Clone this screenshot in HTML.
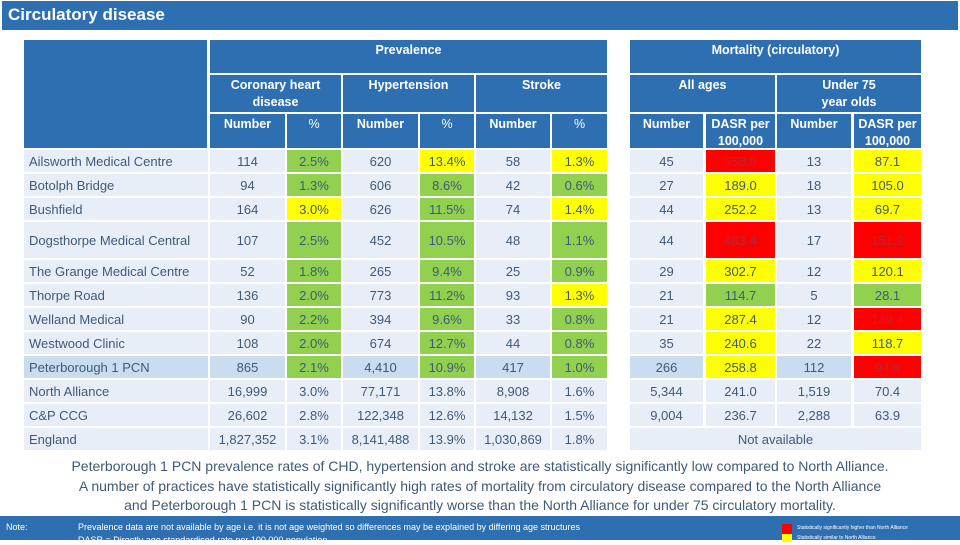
<!DOCTYPE html>
<html><head><meta charset="utf-8">
<style>
*{margin:0;padding:0;box-sizing:border-box}
body{width:960px;height:540px;background:#fff;position:relative;overflow:hidden;font-family:"Liberation Sans",sans-serif}
.abs{position:absolute}
.hd{position:absolute;background:#2e6fb2;color:#fff;font-weight:bold;font-size:12.5px;text-align:center;line-height:17px;padding-top:2px}
.c{position:absolute;display:flex;align-items:center;justify-content:center;font-size:13px;color:#3f5a78;background:#e8eef8}
.nm{justify-content:flex-start;padding-left:5px}
</style></head>
<body>
<div class="abs" style="left:2px;top:1px;width:956px;height:29px;background:#2e6fb2;color:#fff;font-weight:bold;font-size:17px;padding:4px 6px">Circulatory disease</div>

<div class="hd" style="left:24px;top:40px;width:183px;height:108px"></div>
<div class="hd" style="left:210px;top:40px;width:397px;height:33px">Prevalence</div>
<div class="hd" style="left:630px;top:40px;width:291px;height:33px">Mortality (circulatory)</div>
<div class="hd" style="left:210px;top:75px;width:131px;height:37px">Coronary heart<br>disease</div>
<div class="hd" style="left:343px;top:75px;width:131px;height:37px">Hypertension</div>
<div class="hd" style="left:476px;top:75px;width:131px;height:37px">Stroke</div>
<div class="hd" style="left:630px;top:75px;width:145px;height:37px">All ages</div>
<div class="hd" style="left:777px;top:75px;width:144px;height:37px">Under 75<br>year olds</div>
<div id="subhdr"></div>
<div id="tbl"></div>

<div class="abs" style="left:0;top:457px;width:960px;text-align:center;font-size:14px;line-height:19.5px;color:#3f5a78">Peterborough 1 PCN prevalence rates of CHD, hypertension and stroke are statistically significantly low compared to North Alliance.<br>A number of practices have statistically significantly high rates of mortality from circulatory disease compared to the North Alliance<br>and Peterborough 1 PCN is statistically significantly worse than the North Alliance for under 75 circulatory mortality.</div>

<div class="abs" style="left:0;top:516px;width:960px;height:24px;background:#2e6fb2;color:#fff;font-size:9px">
<span class="abs" style="left:6px;top:6px">Note:</span>
<span class="abs" style="left:78px;top:6px">Prevalence data are not available by age i.e. it is not age weighted so differences may be explained by differing age structures</span>
<span class="abs" style="left:78px;top:19px">DASR = Directly age standardised rate per 100,000 population</span>
<span class="abs" style="left:782px;top:8px;width:10px;height:10px;background:#ff0000"></span>
<span class="abs" style="left:782px;top:18px;width:10px;height:8px;background:#ffff00"></span>
<span class="abs" style="left:797px;top:9px;font-size:5px">Statistically significantly higher than North Alliance</span>
<span class="abs" style="left:797px;top:19px;font-size:5px">Statistically similar to North Alliance</span>
</div>

<script>
const practices=["Ailsworth Medical Centre","Botolph Bridge","Bushfield","Dogsthorpe Medical Central","The Grange Medical Centre","Thorpe Road","Welland Medical","Westwood Clinic","Peterborough 1 PCN","North Alliance","C&P CCG","England"];
const chdNum=["114","94","164","107","52","136","90","108","865","16,999","26,602","1,827,352"];
const chdPct=["2.5%","1.3%","3.0%","2.5%","1.8%","2.0%","2.2%","2.0%","2.1%","3.0%","2.8%","3.1%"];
const hypNum=["620","606","626","452","265","773","394","674","4,410","77,171","122,348","8,141,488"];
const hypPct=["13.4%","8.6%","11.5%","10.5%","9.4%","11.2%","9.6%","12.7%","10.9%","13.8%","12.6%","13.9%"];
const strNum=["58","42","74","48","25","93","33","44","417","8,908","14,132","1,030,869"];
const strPct=["1.3%","0.6%","1.4%","1.1%","0.9%","1.3%","0.8%","0.8%","1.0%","1.6%","1.5%","1.8%"];
const allNum=["45","27","44","44","29","21","21","35","266","5,344","9,004",""];
const allDasr=["358.9","189.0","252.2","483.4","302.7","114.7","287.4","240.6","258.8","241.0","236.7",""];
const u75Num=["13","18","13","17","12","5","12","22","112","1,519","2,288",""];
const u75Dasr=["87.1","105.0","69.7","151.2","120.1","28.1","149.4","118.7","94.6","70.4","63.9",""];
// significance: g=low, y=similar, r=high, n=none
const chdSig="ggyggggggnnn";
const hypSig="yggggggggnnn";
const strSig="ygyggygggnnn";
const allSig="ryyrygyyynnn";
const u75Sig="yyyrygryrnnn";

const colX=[24,210,287,343,420,476,552,630,706,777,854];
const colW=[184,75,54,75,54,74,55,73,69,74,67];
const rowTop=[150,174,198,222,260,284,308,332,356,380,404,428];
const rowH=[22,22,22,36,22,22,22,22,22,22,22,22];
const subLabels=["Number","%","Number","%","Number","%","Number","DASR per<br>100,000","Number","DASR per<br>100,000"];
const fills={g:"#92d050",y:"#ffff00",r:"#ff0000"};
const sh=document.getElementById('subhdr');
subLabels.forEach((t,i)=>{
  const d=document.createElement('div');d.className='hd';
  
  
  d.style.cssText=`left:${colX[i+1]}px;top:114px;width:${colW[i+1]}px;height:34px;`+(i%2===1&&i<6?'font-weight:normal;':'');
  d.innerHTML=t;sh.appendChild(d);
});
const tb=document.getElementById('tbl');
const cols=[practices,chdNum,chdPct,hypNum,hypPct,strNum,strPct,allNum,allDasr,u75Num,u75Dasr];
const sigs={2:chdSig,4:hypSig,6:strSig,8:allSig,10:u75Sig};
practices.forEach((p,r)=>{
  cols.forEach((col,c)=>{
    if(r===11 && c>7) return;
    const d=document.createElement('div');d.className='c'+(c===0?' nm':'');
    
    
    let w=colW[c];
    let txt=col[r];
    if(r===11&&c===7){w=921-630;txt="Not available";}
    let bg=(r===8)?"#c9dcf0":"#e8eef8";
    const s=sigs[c]?sigs[c][r]:null;
    let color="#3f5a78";
    if(s&&fills[s]){bg=fills[s];if(s==='r')color="#b02a3a";}
    d.style.cssText=`left:${colX[c]}px;top:${rowTop[r]}px;width:${w}px;height:${rowH[r]}px;background:${bg};color:${color}`;
    d.textContent=txt;tb.appendChild(d);
  });
});
</script>
</body></html>
